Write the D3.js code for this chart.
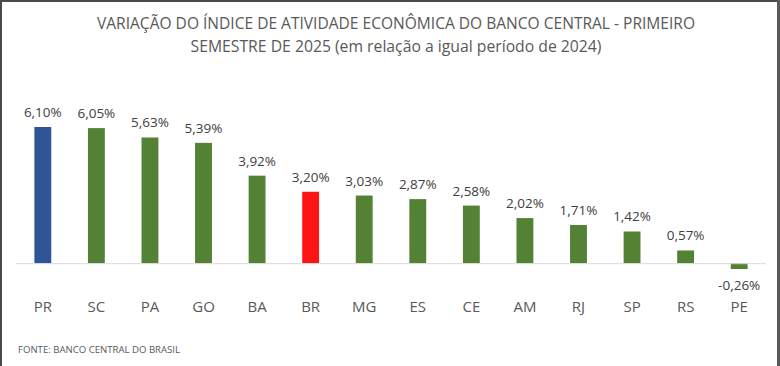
<!DOCTYPE html>
<html><head><meta charset="utf-8">
<script src="https://cdn.jsdelivr.net/npm/d3@7"></script>
<style>body{margin:0;background:#fff}svg{display:block}</style>
</head><body>
<script>
const categories = ["PR","SC","PA","GO","BA","BR","MG","ES","CE","AM","RJ","SP","RS","PE"];
const values = [6.10,6.05,5.63,5.39,3.92,3.20,3.03,2.87,2.58,2.02,1.71,1.42,0.57,-0.26];
const colorKeys = ["blue","green","green","green","green","red","green","green","green","green","green","green","green","green"];
const titleLines = ["VARIAÇÃO DO ÍNDICE DE ATIVIDADE ECONÔMICA DO BANCO CENTRAL - PRIMEIRO","SEMESTRE DE 2025 (em relação a igual período de 2024)"];
const sourceText = "FONTE: BANCO CENTRAL DO BRASIL";

const W = 780, H = 366;
const palette = {blue:"#2F5597", green:"#548235", red:"#FF1414"};
const svg = d3.select("body").append("svg").attr("width",W).attr("height",H);
svg.append("rect").attr("width",W).attr("height",H).attr("fill","#fff");

const font = "'Open Sans', sans-serif";
const x = d3.scaleBand().domain(categories).range([16,766]).paddingInner(0.685).paddingOuter(0.343);
const y = d3.scaleLinear().domain([-0.26,6.10]).range([269,127]);

// title
const tl = [{t:titleLines[0], y:29, len:598},{t:titleLines[1], y:52, len:411}];
svg.selectAll("text.title").data(tl).join("text").attr("class","title")
  .attr("x",396).attr("y",d=>d.y).attr("text-anchor","middle")
  .attr("font-family",font).attr("font-size",17).attr("fill","#595959")
  .attr("textLength",d=>d.len).attr("lengthAdjust","spacingAndGlyphs").text(d=>d.t);

// bars
svg.selectAll("rect.bar").data(values).join("rect").attr("class","bar")
  .attr("x",(d,i)=>x(categories[i])).attr("width",x.bandwidth())
  .attr("y",d=>y(Math.max(0,d))).attr("height",d=>Math.abs(y(d)-y(0)))
  .attr("fill",(d,i)=>palette[colorKeys[i]]);

// baseline
svg.append("line").attr("x1",16).attr("x2",766).attr("y1",y(0)+0.5).attr("y2",y(0)+0.5)
  .attr("stroke","#d9d9d9").attr("stroke-width",1);

// value labels
const fmt = v => d3.format(".2f")(v).replace("\u2212","-").replace(".",",") + "%";
svg.selectAll("text.val").data(values).join("text").attr("class","val")
  .attr("x",(d,i)=>x(categories[i])+x.bandwidth()/2)
  .attr("y",d=> d>=0 ? y(d)-10 : y(d)+21)
  .attr("text-anchor","middle").attr("font-family",font).attr("font-size",13.5).attr("fill","#404040")
  .text(fmt);

// category axis labels
const xAxis = d3.axisBottom(x).tickSize(0).tickPadding(0);
const gx = svg.append("g").attr("transform","translate(0,301)").call(xAxis);
gx.select(".domain").remove();
gx.selectAll("text").attr("font-family",font).attr("font-size",15).attr("fill","#595959");

// source
svg.append("text").attr("x",18).attr("y",353).attr("font-family",font).attr("font-size",9.5)
  .attr("fill","#595959").attr("textLength",162).attr("lengthAdjust","spacingAndGlyphs").text(sourceText);

// frame
svg.append("rect").attr("x",0).attr("y",0).attr("width",W).attr("height",2).attr("fill","#4a4a4a");
svg.append("rect").attr("x",0).attr("y",0).attr("width",2).attr("height",H).attr("fill","#4a4a4a");
svg.append("rect").attr("x",777).attr("y",0).attr("width",3).attr("height",H).attr("fill","#5a5a5a");
</script>
</body></html>
